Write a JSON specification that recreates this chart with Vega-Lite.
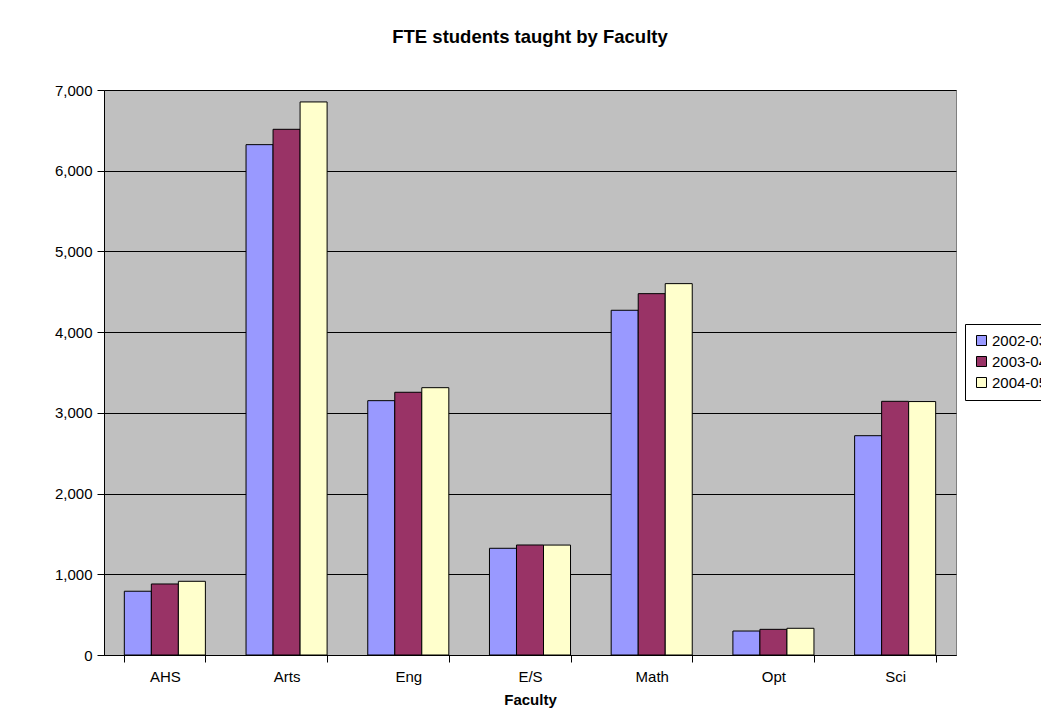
{
  "$schema": "https://vega.github.io/schema/vega-lite/v6.json",
  "width": 852,
  "height": 565,
  "autosize": {"type": "none"},
  "padding": {"left": 104, "top": 90, "right": 85, "bottom": 60},
  "background": "white",
  "title": {
    "text": "FTE students taught by Faculty",
    "font": "Liberation Sans",
    "fontSize": 18.5,
    "fontWeight": "bold",
    "color": "black",
    "anchor": "middle",
    "offset": 37
  },
  "data": {
    "values": [
      {"Faculty": "AHS", "Year": "2002-03", "FTE": 790},
      {"Faculty": "AHS", "Year": "2003-04", "FTE": 880},
      {"Faculty": "AHS", "Year": "2004-05", "FTE": 913},
      {"Faculty": "Arts", "Year": "2002-03", "FTE": 6323},
      {"Faculty": "Arts", "Year": "2003-04", "FTE": 6513},
      {"Faculty": "Arts", "Year": "2004-05", "FTE": 6852},
      {"Faculty": "Eng", "Year": "2002-03", "FTE": 3151},
      {"Faculty": "Eng", "Year": "2003-04", "FTE": 3255},
      {"Faculty": "Eng", "Year": "2004-05", "FTE": 3312},
      {"Faculty": "E/S", "Year": "2002-03", "FTE": 1322},
      {"Faculty": "E/S", "Year": "2003-04", "FTE": 1363},
      {"Faculty": "E/S", "Year": "2004-05", "FTE": 1362},
      {"Faculty": "Math", "Year": "2002-03", "FTE": 4271},
      {"Faculty": "Math", "Year": "2003-04", "FTE": 4477},
      {"Faculty": "Math", "Year": "2004-05", "FTE": 4601},
      {"Faculty": "Opt", "Year": "2002-03", "FTE": 297},
      {"Faculty": "Opt", "Year": "2003-04", "FTE": 318},
      {"Faculty": "Opt", "Year": "2004-05", "FTE": 331},
      {"Faculty": "Sci", "Year": "2002-03", "FTE": 2717},
      {"Faculty": "Sci", "Year": "2003-04", "FTE": 3143},
      {"Faculty": "Sci", "Year": "2004-05", "FTE": 3140}
    ]
  },
  "mark": {"type": "bar", "stroke": "black", "strokeWidth": 1},
  "encoding": {
    "x": {
      "field": "Faculty",
      "type": "nominal",
      "sort": ["AHS", "Arts", "Eng", "E/S", "Math", "Opt", "Sci"],
      "scale": {"paddingInner": 0.334, "paddingOuter": 0.167},
      "axis": {
        "title": "Faculty",
        "titleFont": "Liberation Sans",
        "titleFontSize": 15,
        "titleFontWeight": "bold",
        "titleColor": "black",
        "titlePadding": 8,
        "labelFont": "Liberation Sans",
        "labelFontSize": 15,
        "labelColor": "black",
        "labelAngle": 0,
        "labelPadding": 7,
        "tickBand": "extent",
        "tickColor": "black",
        "tickSize": 7,
        "domainColor": "black",
        "grid": false
      }
    },
    "xOffset": {
      "field": "Year",
      "type": "nominal",
      "scale": {"paddingInner": 0, "paddingOuter": 0}
    },
    "y": {
      "field": "FTE",
      "type": "quantitative",
      "scale": {"domain": [0, 7000], "nice": false},
      "axis": {
        "title": null,
        "values": [0, 1000, 2000, 3000, 4000, 5000, 6000, 7000],
        "format": ",.0f",
        "labelFont": "Liberation Sans",
        "labelFontSize": 15,
        "labelColor": "black",
        "labelPadding": 5,
        "tickColor": "black",
        "tickSize": 7,
        "domainColor": "black",
        "grid": true,
        "gridColor": "black",
        "gridOpacity": 1,
        "gridWidth": 1
      }
    },
    "color": {
      "field": "Year",
      "type": "nominal",
      "scale": {
        "domain": ["2002-03", "2003-04", "2004-05"],
        "range": ["#9999FF", "#993366", "#FFFFCC"]
      },
      "legend": {
        "title": null,
        "orient": "none",
        "legendX": 861,
        "legendY": 234,
        "symbolType": "square",
        "symbolSize": 100,
        "symbolStrokeColor": "black",
        "symbolStrokeWidth": 1,
        "symbolOpacity": 1,
        "labelFont": "Liberation Sans",
        "labelFontSize": 15,
        "labelColor": "black",
        "labelOffset": 3,
        "rowPadding": 5,
        "padding": 9,
        "strokeColor": "black",
        "fillColor": "white"
      }
    }
  },
  "config": {
    "view": {"fill": "#C0C0C0", "stroke": "#808080"}
  }
}
